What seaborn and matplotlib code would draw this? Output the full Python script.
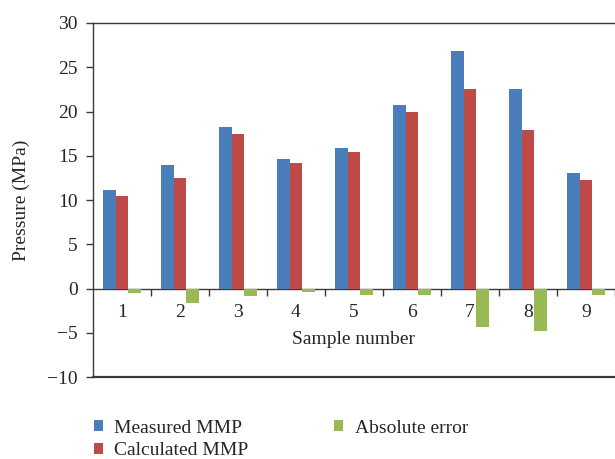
import matplotlib
matplotlib.use("Agg")
import matplotlib.pyplot as plt
import seaborn as sns
import pandas as pd
import numpy as np

samples = ["1", "2", "3", "4", "5", "6", "7", "8", "9"]
measured = [11.1, 14.0, 18.3, 14.6, 15.9, 20.7, 26.8, 22.5, 13.0]
calculated = [10.5, 12.5, 17.5, 14.2, 15.4, 19.9, 22.5, 17.9, 12.3]
abs_error = [-0.5, -1.6, -0.8, -0.4, -0.7, -0.7, -4.4, -4.8, -0.7]
series_names = ["Measured MMP", "Calculated MMP", "Absolute error"]
colors = ["#4A7EBB", "#BE4B48", "#98B954"]
yticks = [-10, -5, 0, 5, 10, 15, 20, 25, 30]

df = pd.DataFrame({
    "sample": samples * 3,
    "series": [series_names[0]] * 9 + [series_names[1]] * 9 + [series_names[2]] * 9,
    "value": measured + calculated + abs_error,
})

sns.set_style("white")
plt.rcParams["font.family"] = ["Liberation Serif", "DejaVu Serif"]
plt.rcParams["axes.unicode_minus"] = True

FS = 14

fig = plt.figure(figsize=(6.15, 4.59), dpi=100)
ax = fig.add_axes([0.1512, 0.1786, 0.8488, 0.7713])

sns.barplot(data=df, x="sample", y="value", hue="series", order=samples,
            hue_order=series_names, palette=colors, saturation=1,
            width=0.67, ax=ax, zorder=3, linewidth=0)

ax.set_xlim(-0.5, 8.5)
ax.set_ylim(-10, 30)
ax.set_yticks(yticks)
ax.set_yticklabels([("\u2212" + str(abs(v))) if v < 0 else str(v) for v in yticks])

spine_color = "#3a3a3a"
for s in ["left", "top", "bottom", "right"]:
    ax.spines[s].set_color(spine_color)
    ax.spines[s].set_linewidth(1.0)
ax.spines["bottom"].set_position(("data", 0))
ax.spines["right"].set_visible(False)
ax.axhline(-10, color=spine_color, lw=1.6, clip_on=False, zorder=4)

ax.set_xticks(range(len(samples)))
ax.set_xticklabels(samples)
ax.set_xticks(np.arange(0.5, len(samples), 1.0), minor=True)
ax.tick_params(axis="x", which="major", length=0, pad=11, labelsize=FS)
ax.tick_params(axis="x", which="minor", length=5, width=1.0, direction="out",
               color=spine_color, bottom=True)
ax.tick_params(axis="y", length=5, width=1.0, direction="out", color=spine_color,
               labelsize=FS, left=True, pad=6)

ax.set_xlabel("Sample number", fontsize=FS, labelpad=7)
ax.set_ylabel("Pressure (MPa)", fontsize=FS, labelpad=12)

handles, labels = ax.get_legend_handles_labels()
ax.get_legend().remove()
fig.legend(handles, labels, loc="upper left", bbox_to_anchor=(0.137, 0.107),
           ncol=2, frameon=False, fontsize=FS, handlelength=0.45,
           handleheight=0.45, handletextpad=0.6, columnspacing=4.4,
           labelspacing=0.3, borderpad=0.0)

fig.savefig("out.png", dpi=100)
